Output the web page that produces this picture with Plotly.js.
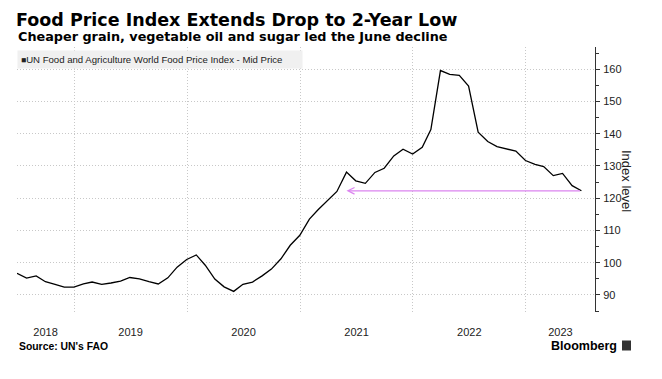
<!DOCTYPE html>
<html><head><meta charset="utf-8">
<script src="https://cdn.plot.ly/plotly-3.0.1.min.js"></script>
<style>html,body{margin:0;padding:0;background:#fff;}#chart{width:662px;height:379px;}</style>
</head><body><div id="chart"></div>
<script>
// Month-end dates of each monthly observation
const months = [
 '2018-06-30','2018-07-31','2018-08-31','2018-09-30','2018-10-31','2018-11-30','2018-12-31',
 '2019-01-31','2019-02-28','2019-03-31','2019-04-30','2019-05-31','2019-06-30','2019-07-31','2019-08-31','2019-09-30','2019-10-31','2019-11-30','2019-12-31',
 '2020-01-31','2020-02-29','2020-03-31','2020-04-30','2020-05-31','2020-06-30','2020-07-31','2020-08-31','2020-09-30','2020-10-31','2020-11-30','2020-12-31',
 '2021-01-31','2021-02-28','2021-03-31','2021-04-30','2021-05-31','2021-06-30','2021-07-31','2021-08-31','2021-09-30','2021-10-31','2021-11-30','2021-12-31',
 '2022-01-31','2022-02-28','2022-03-31','2022-04-30','2022-05-31','2022-06-30','2022-07-31','2022-08-31','2022-09-30','2022-10-31','2022-11-30','2022-12-31',
 '2023-01-31','2023-02-28','2023-03-31','2023-04-30','2023-05-31','2023-06-30'
];
// UN FAO Food Price Index (Mid Price)
const values = [
 96.7, 95.2, 95.9, 94.1, 93.3, 92.4, 92.4,
 93.4, 94.0, 93.3, 93.7, 94.3, 95.4, 95.0, 94.1, 93.4, 95.3, 98.6, 101.0,
 102.4, 99.2, 94.9, 92.5, 91.1, 93.3, 94.0, 95.9, 98.0, 101.2, 105.4, 108.5,
 113.5, 116.4, 119.3, 122.1, 128.1, 125.4, 124.6, 128.0, 129.3, 133.1, 135.2, 133.7,
 135.8, 141.3, 159.6, 158.4, 158.1, 154.8, 140.5, 137.6, 136.0, 135.3, 134.6, 131.7,
 130.5, 129.8, 127.0, 127.7, 123.9, 122.3
];
const years = [2018, 2019, 2020, 2021, 2022, 2023];
const yTickVals = [90, 100, 110, 120, 130, 140, 150, 160];
const seriesName = 'UN Food and Agriculture World Food Price Index - Mid Price';
const arrowToMonth = '2021-05-31';   // level last seen in May 2021
const xRange = ['2018-06-30', '2023-08-13'];
const yRange = [84.7, 166.9];

function fmt(ms){
  const d = new Date(ms), p = n => String(n).padStart(2,'0');
  return d.getUTCFullYear()+'-'+p(d.getUTCMonth()+1)+'-'+p(d.getUTCDate())+' '+p(d.getUTCHours())+':'+p(d.getUTCMinutes());
}
const r0 = Date.parse(xRange[0]+'T00:00:00Z'), r1 = Date.parse(xRange[1]+'T00:00:00Z');
const yearStarts = years.slice(1).map(y => y+'-01-01');
const yearMids = years.map(y => {
  const s = Math.max(Date.UTC(y,0,1), r0), e = Math.min(Date.UTC(y+1,0,1), r1);
  return fmt((s+e)/2);
});
const lastVal = values[values.length-1];
const lastMonth = months[months.length-1];

const trace = {
  type:'scatter', mode:'lines', x: months, y: values, name: seriesName,
  line:{color:'#000', width:1.3}, hoverinfo:'x+y'
};

const W = 662, H = 379, L = 17, R = 67, T = 47, B = 67;
const pw = W-L-R, ph = H-T-B;
const px = p => (p-L)/pw, py = p => (H-B-p)/ph;
const gridDash = '1px,2px', gridColor = '#c8c8c8';

const layout = {
  width: W, height: H,
  margin:{l:L, r:R, t:T, b:B},
  paper_bgcolor:'#fff', plot_bgcolor:'#fff',
  font:{family:'Liberation Sans, Arial, sans-serif', size:11, color:'#333'},
  showlegend:false,
  title:{text:'Food Price Index Extends Drop to 2-Year Low',
    font:{family:'DejaVu Sans, sans-serif', size:17.5, weight:'bold', color:'#000'},
    xref:'container', yref:'container', x:16/W, xanchor:'left', y:1-19.5/H, yanchor:'middle'},
  xaxis:{type:'date', range:xRange, tickmode:'array', tickvals:yearMids, ticktext:years.map(String),
    ticks:'', showgrid:false, zeroline:false, showline:false, ticklabelstandoff:12,
    tickfont:{size:11, color:'#222'},
    minor:{tickmode:'array', tickvals:yearStarts, showgrid:true, gridcolor:gridColor, griddash:gridDash, gridwidth:1, ticks:''},
    fixedrange:true},
  yaxis:{side:'right', range:yRange, tickmode:'array', tickvals:yTickVals,
    showgrid:true, gridcolor:gridColor, griddash:gridDash, gridwidth:1,
    showline:true, linecolor:'#333', linewidth:1, zeroline:false,
    ticks:'outside', ticklen:4, tickwidth:1, tickcolor:'#333',
    minor:{tickmode:'linear', tick0:0, dtick:5, ticks:'outside', ticklen:3, tickcolor:'#333', showgrid:false},
    tickfont:{size:11, color:'#222'}, ticklabelstandoff:1, fixedrange:true},
  annotations:[
    {text:'Cheaper grain, vegetable oil and sugar led the June decline', xref:'paper', yref:'paper',
     x:px(16), xanchor:'left', y:py(36.8), yanchor:'middle', showarrow:false,
     font:{family:'DejaVu Sans, sans-serif', size:12.8, weight:'bold', color:'#000'}},
    {text:'<span style="font-size:8.5px">■</span>'+seriesName, xref:'paper', yref:'paper',
     x:0, xanchor:'left', y:py(59.5), yanchor:'middle', showarrow:false, align:'left', width:278,
     bgcolor:'#f0f0f0', borderpad:3, font:{family:'Liberation Sans, Arial, sans-serif', size:9.6, color:'#222'}},
    {text:'Index level', xref:'paper', yref:'paper', x:px(627), y:py(181), xanchor:'center', yanchor:'middle',
     textangle:90, showarrow:false, font:{family:'Liberation Sans, Arial, sans-serif', size:13, color:'#222'}},
    {text:"Source: UN's FAO", xref:'paper', yref:'paper', x:px(17), xanchor:'left', y:py(346.7), yanchor:'middle',
     showarrow:false, font:{family:'Liberation Sans, Arial, sans-serif', size:10.4, weight:'bold', color:'#000'}},
    {text:'Bloomberg', xref:'paper', yref:'paper', x:px(619), xanchor:'right', y:py(345.7), yanchor:'middle',
     showarrow:false, font:{family:'Liberation Sans, Arial, sans-serif', size:12.5, weight:'bold', color:'#000'}},
    {text:'', x:arrowToMonth, y:lastVal, xref:'x', yref:'y', ax:lastMonth, ay:lastVal, axref:'x', ayref:'y',
     showarrow:true, arrowhead:5, arrowsize:1, arrowwidth:1.3, arrowcolor:'#dc84f0', standoff:0, startstandoff:0}
  ],
  shapes:[
    {type:'rect', xref:'paper', yref:'paper', x0:px(622), x1:px(631), y0:py(350.5), y1:py(340.5),
     fillcolor:'#333', line:{width:0}}
  ]
};

Plotly.newPlot('chart', [trace], layout, {displayModeBar:false, staticPlot:true});
</script></body></html>
